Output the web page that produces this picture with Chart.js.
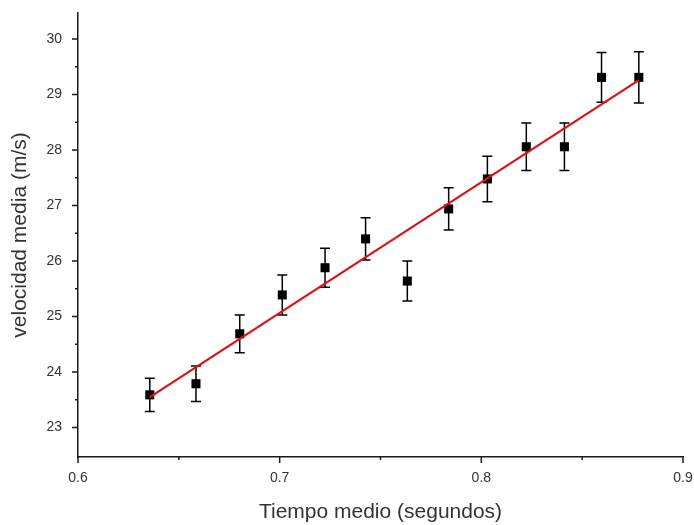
<!DOCTYPE html>
<html>
<head>
<meta charset="utf-8">
<script src="https://cdn.jsdelivr.net/npm/chart.js@4"></script>
<style>
  html, body { margin: 0; padding: 0; background: #fff; }
  #wrap { width: 694px; height: 525px; }
</style>
</head>
<body>
<div id="wrap"><canvas id="c"></canvas></div>
<script>
// measured points (tiempo medio, velocidad media) and their error half-widths
const tiempo = [0.6356, 0.6585, 0.6802, 0.7013, 0.7225, 0.7426, 0.7633, 0.7838, 0.8030, 0.8223, 0.8412, 0.8596, 0.8781];
const velocidad = [23.59, 23.79, 24.69, 25.39, 25.88, 26.40, 25.64, 26.94, 27.48, 28.06, 28.06, 29.31, 29.31];
const errVel = [0.30, 0.32, 0.34, 0.36, 0.35, 0.38, 0.36, 0.38, 0.41, 0.43, 0.43, 0.45, 0.46];

// linear fit, drawn between its two ends
const ajusteX = [0.6356, 0.8781];
const ajusteY = [23.55, 29.26];

const xTicks = [0.6, 0.7, 0.8, 0.9];
const xMinor = [0.65, 0.75, 0.85];
const yTicks = [23, 24, 25, 26, 27, 28, 29, 30];
const yMinor = [23.5, 24.5, 25.5, 26.5, 27.5, 28.5, 29.5];

const axisColor = '#1a1a1a';
const textColor = '#333';
const font = "'Liberation Sans', Arial, sans-serif";

const errorBars = {
  id: 'errorBars',
  beforeDatasetsDraw(chart) {
    const { ctx, scales: { x, y } } = chart;
    ctx.save();
    ctx.strokeStyle = '#000';
    ctx.lineWidth = 1.5;
    tiempo.forEach((t, i) => {
      const px = x.getPixelForValue(t);
      const top = y.getPixelForValue(velocidad[i] + errVel[i]);
      const bot = y.getPixelForValue(velocidad[i] - errVel[i]);
      ctx.beginPath();
      ctx.moveTo(px, top); ctx.lineTo(px, bot);
      ctx.moveTo(px - 5, top); ctx.lineTo(px + 5, top);
      ctx.moveTo(px - 5, bot); ctx.lineTo(px + 5, bot);
      ctx.stroke();
    });
    ctx.restore();
  },
  afterDraw(chart) {
    // tick marks, outward, minor ones shorter
    const { ctx, scales: { x, y } } = chart;
    ctx.save();
    ctx.strokeStyle = axisColor;
    ctx.lineWidth = 1.5;
    ctx.beginPath();
    const yb = y.bottom, xl = x.left;
    xTicks.forEach(v => { const p = x.getPixelForValue(v); ctx.moveTo(p, yb); ctx.lineTo(p, yb + 6); });
    xMinor.forEach(v => { const p = x.getPixelForValue(v); ctx.moveTo(p, yb); ctx.lineTo(p, yb + 3); });
    yTicks.forEach(v => { const p = y.getPixelForValue(v); ctx.moveTo(xl, p); ctx.lineTo(xl - 6, p); });
    yMinor.forEach(v => { const p = y.getPixelForValue(v); ctx.moveTo(xl, p); ctx.lineTo(xl - 3, p); });
    ctx.stroke();
    ctx.restore();
  }
};

new Chart(document.getElementById('c'), {
  data: {
    datasets: [
      {
        type: 'line',
        data: ajusteX.map((v, i) => ({ x: v, y: ajusteY[i] })),
        borderColor: '#dd1111',
        borderWidth: 2.2,
        pointRadius: 0,
        fill: false
      },
      {
        type: 'scatter',
        data: tiempo.map((v, i) => ({ x: v, y: velocidad[i] })),
        pointStyle: 'rect',
        pointRadius: 6.4,
        backgroundColor: '#000',
        borderColor: '#000',
        borderWidth: 0
      }
    ]
  },
  options: {
    responsive: true,
    maintainAspectRatio: false,
    animation: false,
    layout: { padding: { top: 13, right: 11, left: 0, bottom: 0 } },
    plugins: { legend: { display: false }, tooltip: { enabled: false } },
    scales: {
      x: {
        type: 'linear',
        min: 0.6, max: 0.9,
        afterBuildTicks: s => { s.ticks = xTicks.map(v => ({ value: v })); },
        afterFit: s => { s.height = 68; s.paddingLeft = 0; s.paddingRight = 0; },
        grid: { display: false, drawTicks: false },
        border: { display: true, color: axisColor, width: 1.5 },
        ticks: {
          padding: 13,
          color: textColor,
          font: { family: font, size: 14 },
          maxRotation: 0,
          callback: v => String(v)
        },
        title: {
          display: true,
          text: 'Tiempo medio (segundos)',
          color: textColor,
          font: { family: font, size: 21 },
          padding: { top: 0, bottom: 0 }
        }
      },
      y: {
        type: 'linear',
        min: 22.47, max: 30.47,
        afterBuildTicks: s => { s.ticks = yTicks.map(v => ({ value: v })); },
        afterFit: s => { s.width = 78; s.paddingTop = 0; s.paddingBottom = 0; },
        grid: { display: false, drawTicks: false },
        border: { display: true, color: axisColor, width: 1.5 },
        ticks: {
          padding: 16,
          color: textColor,
          font: { family: font, size: 14 },
          callback: v => String(v)
        },
        title: {
          display: true,
          text: 'velocidad media (m/s)',
          color: textColor,
          font: { family: font, size: 21 },
          padding: { top: 8, bottom: 0 }
        }
      }
    }
  },
  plugins: [errorBars]
});
</script>
</body>
</html>
